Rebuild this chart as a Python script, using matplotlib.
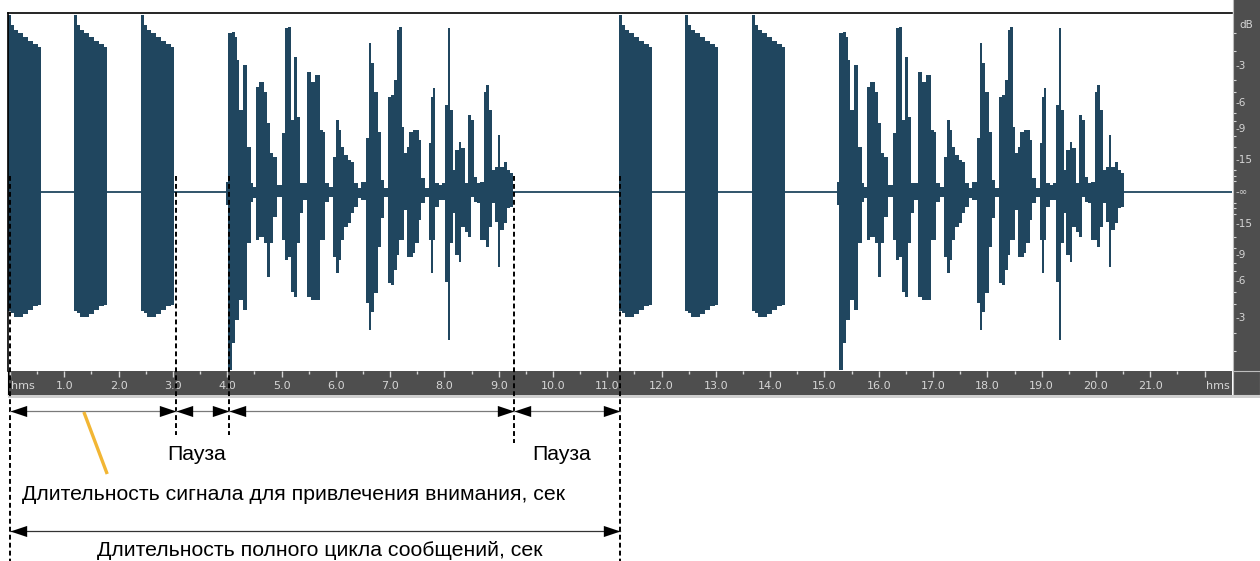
import numpy as np
import matplotlib.pyplot as plt
from matplotlib.patches import Rectangle

plt.rcParams['font.family'] = ['Liberation Sans', 'DejaVu Sans']

# --- data (seconds / fraction of full scale) ---
cycle_starts = [0.0, 11.25]
burst_offsets = [-0.03, 1.18, 2.41]
burst_edges = [0.0, 0.055, 0.11, 0.184, 0.276, 0.368, 0.46, 0.552, 0.608]
burst_top = [0.994, 0.938, 0.910, 0.893, 0.871, 0.848, 0.831, 0.815]
burst_bot = [-0.67, -0.68, -0.70, -0.70, -0.685, -0.665, -0.64, -0.635]

speech_offset = 3.98
speech_edges = [0.000, 0.042, 0.105, 0.166, 0.197, 0.245, 0.319, 0.392, 0.455, 0.503,
                0.552, 0.613, 0.700, 0.750, 0.810, 0.871, 0.945, 1.026, 1.087, 1.147,
                1.197, 1.252, 1.313, 1.363, 1.424, 1.497, 1.560, 1.639, 1.731, 1.781,
                1.829, 1.891, 1.976, 2.026, 2.075, 2.118, 2.179, 2.241, 2.302, 2.363,
                2.425, 2.486, 2.578, 2.628, 2.670, 2.731, 2.794, 2.855, 2.915, 2.978,
                3.039, 3.099, 3.144, 3.191, 3.241, 3.283, 3.328, 3.376, 3.438, 3.486,
                3.549, 3.597, 3.670, 3.733, 3.781, 3.818, 3.855, 3.917, 3.978, 4.039,
                4.088, 4.131, 4.175, 4.223, 4.285, 4.333, 4.396, 4.457, 4.517, 4.562,
                4.622, 4.683, 4.746, 4.788, 4.849, 4.899, 4.948, 5.009, 5.052, 5.115,
                5.175, 5.236, 5.280]
speech_top = [0.056, 0.893, 0.899, 0.871, 0.742, 0.461, 0.713, 0.253, 0.051, 0.028,
              0.590, 0.618, 0.562, 0.388, 0.219, 0.197, 0.039, 0.331, 0.921, 0.927,
              0.404, 0.758, 0.421, 0.051, 0.051, 0.674, 0.618, 0.657, 0.348, 0.337,
              0.051, 0.028, 0.197, 0.404, 0.348, 0.253, 0.208, 0.180, 0.169, 0.051,
              0.022, 0.056, 0.303, 0.837, 0.725, 0.562, 0.337, 0.067, 0.022, 0.534,
              0.545, 0.629, 0.910, 0.927, 0.365, 0.219, 0.253, 0.337, 0.348, 0.348,
              0.292, 0.079, 0.022, 0.275, 0.534, 0.584, 0.051, 0.039, 0.051, 0.489,
              0.921, 0.461, 0.124, 0.236, 0.281, 0.247, 0.051, 0.433, 0.404, 0.084,
              0.051, 0.056, 0.562, 0.601, 0.461, 0.124, 0.140, 0.320, 0.140, 0.169,
              0.124, 0.107]
speech_bot = [-0.073, -1.0, -0.848, -0.719, -0.719, -0.607, -0.663, -0.287, -0.056, -0.034,
              -0.270, -0.253, -0.287, -0.478, -0.287, -0.140, -0.028, -0.270, -0.382, -0.365,
              -0.562, -0.590, -0.287, -0.118, -0.045, -0.590, -0.607, -0.607, -0.270, -0.270,
              -0.056, -0.028, -0.365, -0.455, -0.382, -0.270, -0.197, -0.174, -0.118, -0.084,
              -0.034, -0.045, -0.624, -0.775, -0.674, -0.567, -0.309, -0.146, -0.028, -0.511,
              -0.522, -0.438, -0.354, -0.270, -0.270, -0.101, -0.365, -0.365, -0.343, -0.287,
              -0.157, -0.062, -0.028, -0.270, -0.455, -0.270, -0.084, -0.045, -0.045, -0.506,
              -0.831, -0.287, -0.118, -0.354, -0.393, -0.197, -0.225, -0.253, -0.028, -0.056,
              -0.062, -0.270, -0.270, -0.309, -0.197, -0.062, -0.169, -0.421, -0.213, -0.174,
              -0.090, -0.084]

marks = [0.0, 3.05, 4.03, 9.28, 11.23]
mark_ends = [561, 435, 435, 443, 561]
db_levels = [-3, -6, -9, -15]
db_minor = [-1, -2, -4, -5, -7, -8, -10, -12, -18, -21, -24]
sec_ticks = list(range(0, 23))
sec_labels = ['hms'] + [f'{s}.0' for s in range(1, 22)] + ['hms']

wave_col = '#20465f'
dark = '#4e4e4e'
light = '#d6d6d6'

W, H = 1260, 561
t_left, t_right = -0.037, 22.505
A = 1.006


def box(x0, y0, x1, y1):
    return [x0 / W, 1 - y1 / H, (x1 - x0) / W, (y1 - y0) / H]


fig = plt.figure(figsize=(12.6, 5.61), dpi=100)

# waveform
ax = fig.add_axes(box(8, 13, 1232, 371))
ax.set_xlim(t_left, t_right)
ax.set_ylim(-A, A)
ax.axhline(0, color=wave_col, lw=1.3, zorder=1)
for c in cycle_starts:
    for b in burst_offsets:
        ax.stairs(burst_top, c + b + np.array(burst_edges), baseline=burst_bot,
                  fill=True, color=wave_col, lw=0, zorder=2)
    ax.stairs(speech_top, c + speech_offset + np.array(speech_edges), baseline=speech_bot,
              fill=True, color=wave_col, lw=0, zorder=2)
ax.set_xticks([])
ax.set_yticks([])
for s in ['right', 'bottom']:
    ax.spines[s].set_visible(False)
for s in ['top', 'left']:
    ax.spines[s].set_linewidth(1.2)

# time ruler
rx = fig.add_axes(box(8, 371, 1232, 395))
rx.set_facecolor(dark)
rx.set_xlim(t_left, t_right)
rx.set_ylim(0, 1)
rx.set_xticks(sec_ticks)
rx.set_xticks(np.arange(0.5, 22.5, 1.0), minor=True)
rx.set_yticks([])
rx.tick_params(axis='x', which='both', direction='in', top=True, bottom=False,
               labelbottom=False, color=light, width=1)
rx.tick_params(axis='x', which='major', length=4)
rx.tick_params(axis='x', which='minor', length=2)
for s in rx.spines.values():
    s.set_visible(False)
rx.spines['left'].set_visible(True)
rx.spines['left'].set_color('black')
for t, lab in zip(sec_ticks, sec_labels):
    if lab == 'hms':
        rx.text(t + 0.02, 0.38, lab, ha='left', va='center', fontsize=8, color=light,
                family='DejaVu Sans')
    else:
        rx.text(t, 0.38, lab, ha='center', va='center', fontsize=8, color=light,
                family='DejaVu Sans')
fig.add_artist(Rectangle((8 / W, 1 - 398 / H), 1252 / W, 3 / H, transform=fig.transFigure,
                         color='#cfcfcf', lw=0))

# dB panel
px = fig.add_axes(box(1233, 0, 1260, 371))
px.set_facecolor(dark)
px.set_xlim(0, 1)
px.set_ylim(-A, A + 2 * A * 13 / 358)
px.set_xticks([])
major_amp = [10 ** (d / 20) for d in db_levels]
px.set_yticks(major_amp + [-a for a in major_amp] + [0])
px.set_yticks([10 ** (d / 20) for d in db_minor] + [-10 ** (d / 20) for d in db_minor], minor=True)
px.tick_params(axis='y', which='both', direction='in', left=True, labelleft=False,
               color=light, width=0.8)
px.tick_params(axis='y', which='major', length=0)
px.tick_params(axis='y', which='minor', length=2)
for s in px.spines.values():
    s.set_visible(False)
px.spines['left'].set_visible(True)
px.spines['left'].set_color('#bdbdbd')
for d, a in zip(db_levels, major_amp):
    px.text(0.08, a, f'-{abs(d)}', ha='left', va='center', fontsize=7.5, color=light,
            family='DejaVu Sans')
    px.text(0.08, -a, f'-{abs(d)}', ha='left', va='center', fontsize=7.5, color=light,
            family='DejaVu Sans')
px.text(0.08, 0, '-∞', ha='left', va='center', fontsize=7.5, color=light, family='DejaVu Sans')
px.text(0.25, A + 2 * A * 13 / 358 - 0.14, 'dB', ha='left', va='center', fontsize=7.5,
        color=light, family='DejaVu Sans')

cx = fig.add_axes(box(1233, 371, 1260, 395))
cx.set_facecolor(dark)
cx.set_xticks([])
cx.set_yticks([])
for s in cx.spines.values():
    s.set_color('#bdbdbd')

# annotations
ov = fig.add_axes(box(8, 0, 1232, 561), zorder=5)
ov.set_xlim(t_left, t_right)
ov.set_ylim(561, 0)
ov.axis('off')
ov.patch.set_alpha(0)

ov.vlines(marks, 176, mark_ends, colors='black', linestyles=(0, (2.5, 1.6)), lw=1.4)

head_r = [(0, 0), (-1.5, 0.5), (-1.5, -0.5)]
head_l = [(0, 0), (1.5, 0.5), (1.5, -0.5)]


def arrow(t0, t1, y, lc):
    ov.plot([t0, t1], [y, y], color=lc, lw=0.9)
    ov.plot([t0], [y], marker=head_l, ms=24, color='black', mew=0, ls='none')
    ov.plot([t1], [y], marker=head_r, ms=24, color='black', mew=0, ls='none')


for t0, t1 in zip(marks[:-1], marks[1:]):
    arrow(t0, t1, 411, '#7a7a7a')
arrow(marks[0], marks[-1], 531, '#333333')

ov.plot([1.36, 1.79], [412, 474], color='#f2b634', lw=2.4, solid_capstyle='butt')

fs = 15.3
ov.text(3.43, 454, 'Пауза', ha='center', va='center', fontsize=fs)
ov.text(10.15, 454, 'Пауза', ha='center', va='center', fontsize=fs)
ov.text(0.22, 494, 'Длительность сигнала для привлечения внимания, сек', ha='left',
        va='center', fontsize=fs)
ov.text(5.71, 551, 'Длительность полного цикла сообщений, сек', ha='center',
        va='center', fontsize=fs)

fig.savefig('out.png', dpi=100)
